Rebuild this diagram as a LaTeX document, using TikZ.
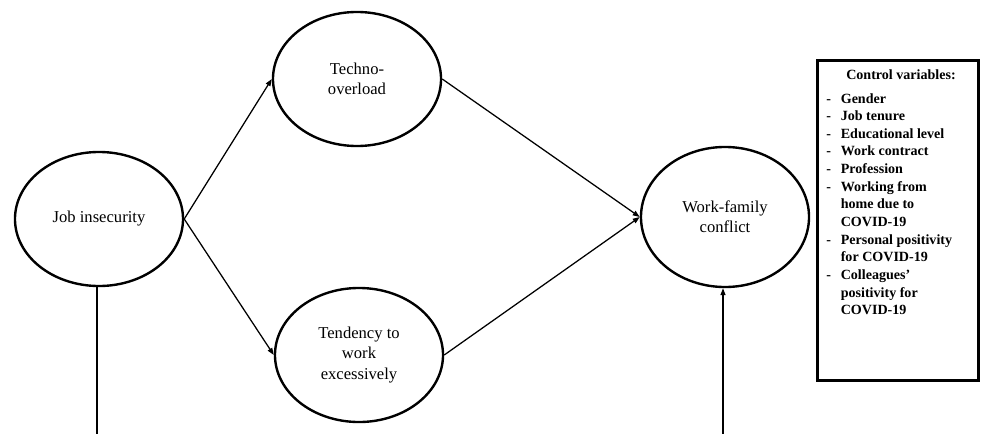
\documentclass[tikz,border=0pt]{standalone}
\usepackage{fontspec}
\setmainfont{Liberation Serif}
\usetikzlibrary{shapes.geometric,arrows.meta}
\begin{document}
\begin{tikzpicture}[x=0.025cm,y=-0.025cm,
  latent/.style={ellipse,draw,line width=1.7pt,inner sep=0pt,
    minimum width=4.2cm,minimum height=3.35cm,align=center,
    font=\fontsize{11.8}{14.5}\selectfont},
  path/.style={line width=0.9pt},
  arr/.style={path,-{Triangle[length=5pt,width=3.6pt]}},
  cvbox/.style={draw,line width=2pt,inner sep=0pt,anchor=north west,
    minimum width=4.025cm,minimum height=8cm},
  cvtext/.style={font=\bfseries\fontsize{10}{12.55}\selectfont,inner sep=0pt}]
\useasboundingbox (0,0) rectangle (981,434);
\node[latent] (ji) at (99,219) {Job insecurity};
\node[latent] (to) at (357,79) {Techno-\\overload};
\node[latent] (te) at (359,355) {Tendency to\\work\\excessively};
\node[latent,minimum height=3.5cm] (wf) at (725,217) {Work-family\\conflict};
\draw[arr] (ji.east) -- (to.west);
\draw[arr] (ji.east) -- (te.west);
\draw[arr] (to.east) -- (wf.west);
\draw[arr] (te.east) -- (wf.west);
\coordinate (jib) at (97,434);
\coordinate (wfb) at (723,434);
\draw[path] (ji.south) ++(-2,0) coordinate (jis) -- (jis |- jib);
\draw[arr] (wfb) -- (wfb |- wf.south);
\node[cvbox] (cv) at (816,59) {};
\node[cvtext,anchor=base] (cvt) at (901,79) {Control variables:};
\node[cvtext,anchor=base west] (cvl) at (826,103) {%
\begin{tabular}[t]{@{}l@{\hspace{7pt}}l@{}}
- & Gender\\
- & Job tenure\\
- & Educational level\\
- & Work contract\\
- & Profession\\
- & Working from\\
  & home due to\\
  & COVID-19\\
- & Personal positivity\\
  & for COVID-19\\
- & Colleagues’\\
  & positivity for\\
  & COVID-19
\end{tabular}};
\end{tikzpicture}
\end{document}
